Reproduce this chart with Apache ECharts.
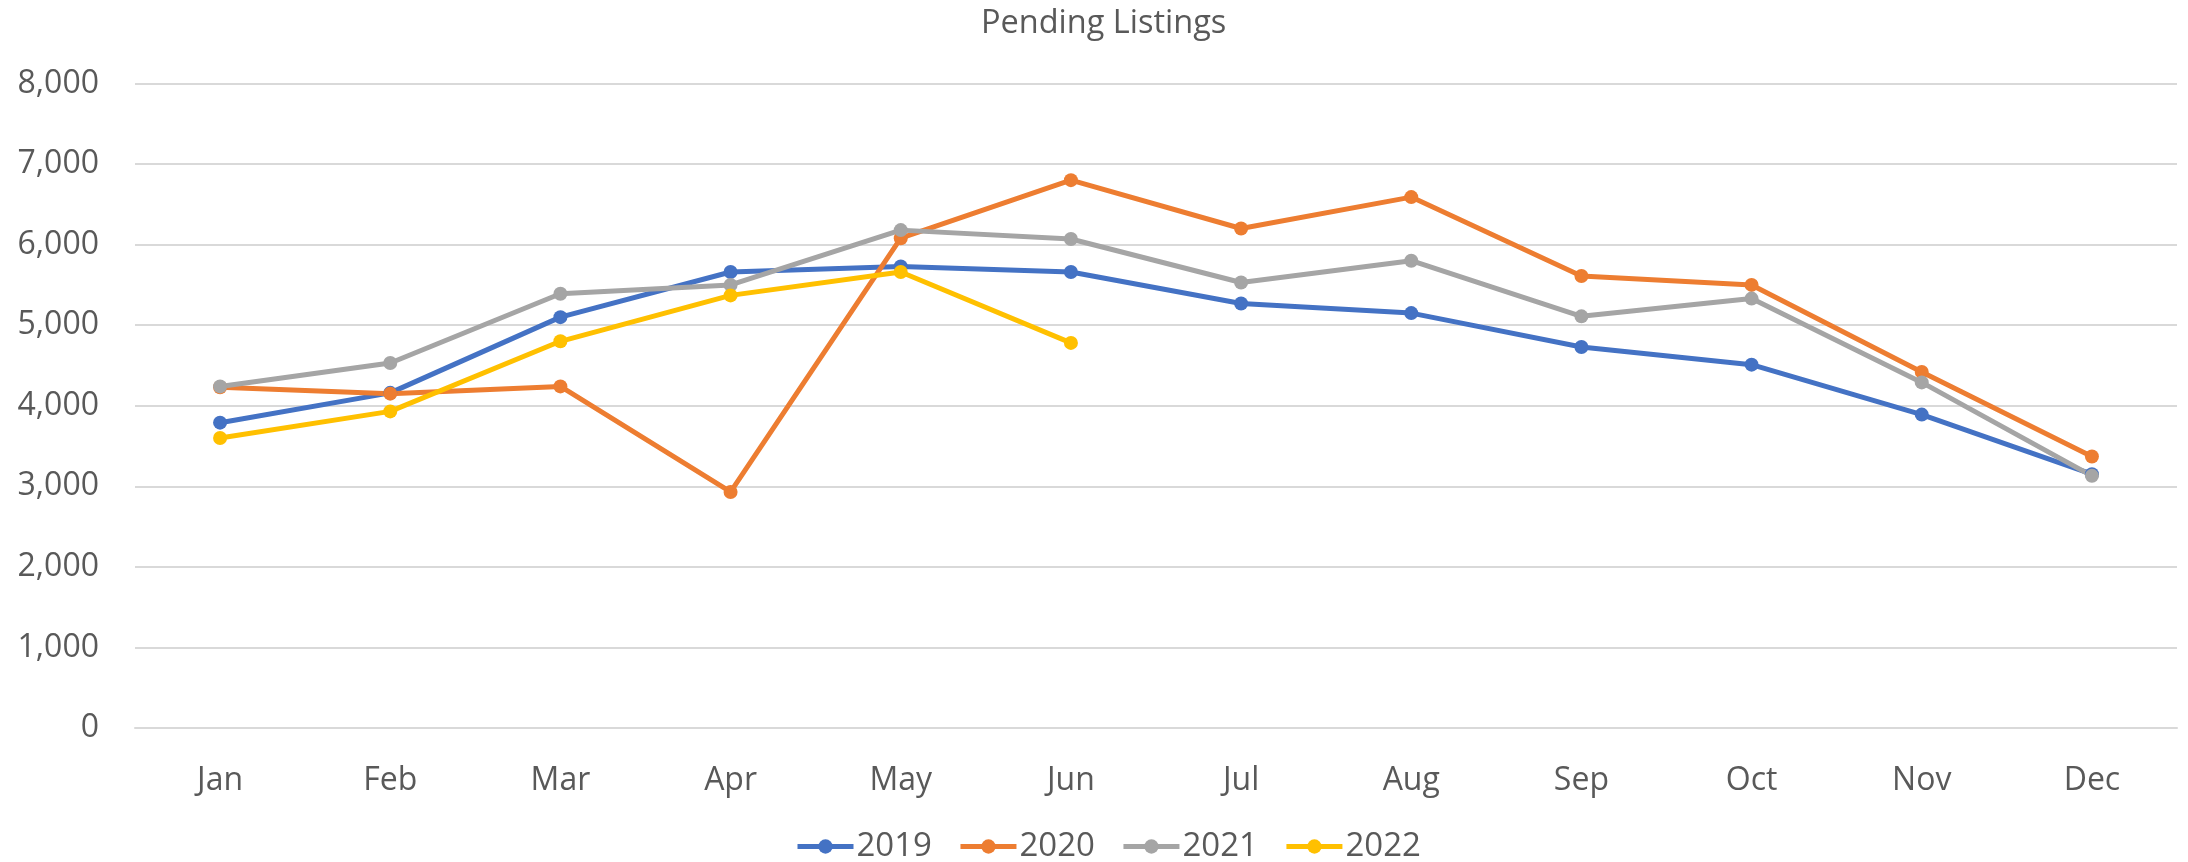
<!DOCTYPE html>
<html>
<head>
<meta charset="utf-8">
<script src="https://cdn.jsdelivr.net/npm/echarts@6/dist/echarts.min.js"></script>
<style>
  html, body { margin: 0; padding: 0; background: #fff; }
  #chart { width: 2188px; height: 862px; }
</style>
</head>
<body>
<div id="chart"></div>
<script>
const months = ["Jan", "Feb", "Mar", "Apr", "May", "Jun", "Jul", "Aug", "Sep", "Oct", "Nov", "Dec"];
const years = ["2019", "2020", "2021", "2022"];
const data2019 = [3790, 4160, 5100, 5660, 5730, 5660, 5270, 5150, 4730, 4510, 3890, 3150];
const data2020 = [4230, 4150, 4240, 2930, 6080, 6800, 6200, 6590, 5610, 5500, 4420, 3370];
const data2021 = [4240, 4530, 5390, 5500, 6180, 6070, 5530, 5800, 5110, 5330, 4290, 3130];
const data2022 = [3600, 3930, 4800, 5370, 5660, 4780];
const colors = ["#4472C4", "#ED7D31", "#A5A5A5", "#FFC000"];

const font = "'Open Sans', sans-serif";
const textColor = "#595959";

const chart = echarts.init(document.getElementById("chart"));

const seriesArr = [data2019, data2020, data2021, data2022].map((values, i) => {
  return {
    type: "line",
    name: years[i],
    data: values,
    symbol: "circle",
    symbolSize: 14,
    lineStyle: { width: 5, color: colors[i] },
    itemStyle: { color: colors[i] },
    emphasis: { disabled: true },
  };
});

const option = {
  animation: false,
  color: colors,
  title: {
    text: "Pending Listings",
    left: 976,
    top: 2,
    textStyle: {
      fontFamily: font,
      fontSize: 32.5,
      fontWeight: "normal",
      color: textColor,
    },
  },
  legend: {
    bottom: -6,
    left: 790,
    itemWidth: 56,
    itemHeight: 18,
    itemGap: 26,
    lineStyle: { width: 5 },
    textStyle: {
      fontFamily: font,
      fontSize: 33,
      color: textColor,
      padding: [0, 0, 0, -2],
    },
    data: years,
  },
  grid: {
    left: 135,
    right: 11,
    top: 83.5,
    bottom: 134,
    outerBoundsMode: "none",
  },
  xAxis: {
    type: "category",
    data: months,
    boundaryGap: true,
    axisLine: { show: true, lineStyle: { color: "#D9D9D9", width: 2 } },
    axisTick: { show: false },
    axisLabel: {
      margin: 37,
      fontFamily: font,
      fontSize: 32,
      color: textColor,
    },
  },
  yAxis: {
    type: "value",
    min: 0,
    max: 8000,
    interval: 1000,
    axisLine: { show: false },
    axisTick: { show: false },
    splitLine: { lineStyle: { color: "#D9D9D9", width: 2 } },
    axisLabel: {
      margin: 36,
      fontFamily: font,
      fontSize: 32,
      color: textColor,
      formatter: (v) => v.toLocaleString("en-US"),
    },
  },
  series: seriesArr,
};

chart.setOption(option);
</script>
</body>
</html>
